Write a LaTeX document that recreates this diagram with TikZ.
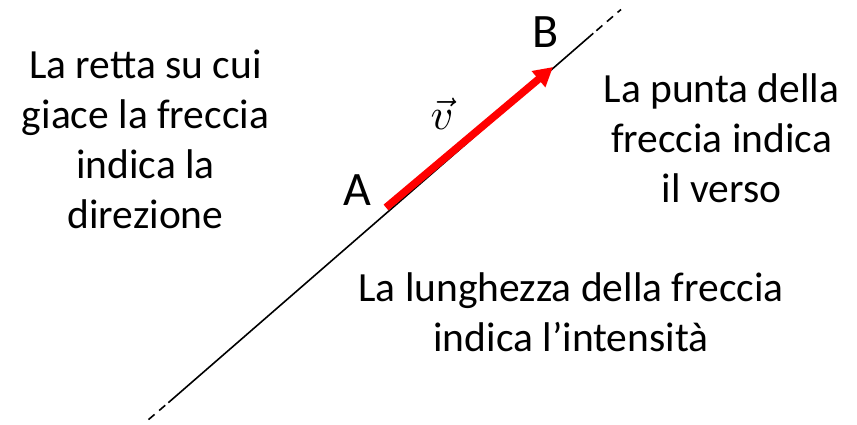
\documentclass[tikz,border=0pt]{standalone}
\usepackage{fontspec}
\setmainfont{Carlito}
\usetikzlibrary{arrows.meta}
\begin{document}
\begin{tikzpicture}[x=1pt,y=-1pt,
  txt/.style={align=center,inner sep=0pt,font=\fontsize{41.5}{50}\selectfont},
  lbl/.style={inner sep=0pt,font=\fontsize{48}{56}\selectfont},
  retta/.style={line width=1.6pt,black},
  rettatrat/.style={retta,dash pattern=on 8pt off 6pt,dash phase=10pt},
  vettore/.style={line width=7.5pt,red,-{Triangle[length=19pt,width=20pt]}}]
\useasboundingbox (0,0) rectangle (857,424);
% line
\coordinate (E1) at (146,421.7);
\coordinate (S1) at (168.3,402.7);
\coordinate (S2) at (593.3,33.3);
\coordinate (E2) at (621,9.5);
\draw[retta] (S1) -- (S2);
\draw[rettatrat] (S1) -- (E1);
\draw[rettatrat] (S2) -- (E2);
% vector
\coordinate (VA) at (386,207.5);
\coordinate (VB) at (553,67);
\draw[vettore] (VA) -- (VB);
% labels
\node[lbl,anchor=base] (A) at (357.5,205) {A};
\node[lbl,anchor=base] (B) at (546,47.3) {B};
\node[inner sep=0pt] (v) at (442,114) {\scalebox{4.4}{$\vec{v}$}};
\node[txt] (dir) at (145.5,139) {La retta su cui\\giace la freccia\\indica la\\direzione};
\node[txt] (verso) at (721.5,138.5) {La punta della\\freccia indica\\il verso};
\node[txt] (int) at (571,312.5) {La lunghezza della freccia\\indica l’intensità};
\end{tikzpicture}
\end{document}
